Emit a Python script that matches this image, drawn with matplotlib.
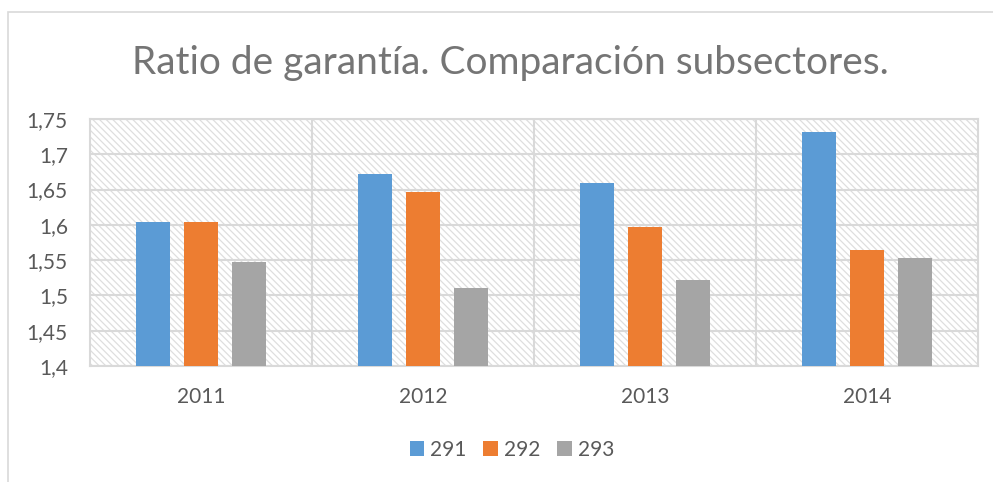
import matplotlib.pyplot as plt
import matplotlib.patches as patches
from matplotlib.ticker import MultipleLocator, FuncFormatter
import numpy as np

years = ["2011", "2012", "2013", "2014"]
s291 = [1.604, 1.672, 1.660, 1.731]
s292 = [1.604, 1.646, 1.597, 1.564]
s293 = [1.547, 1.511, 1.522, 1.553]
series = [("291", s291, "#5b9bd5"), ("292", s292, "#ed7d31"), ("293", s293, "#a5a5a5")]

plt.rcParams['font.family'] = ['Lato', 'DejaVu Sans']
plt.rcParams['hatch.linewidth'] = 0.9
txt = "#595959"
grid = "#d9d9d9"

fig = plt.figure(figsize=(9.93, 4.82), dpi=100)
ax = fig.add_axes([90/993, 1 - 366/482, (978 - 90)/993, (366 - 119)/482])

# outer chart border (runs off the right and bottom of the picture)
fig.patches.append(patches.Rectangle((8/993, -0.2), 1.2, 1.2 - 12/482, transform=fig.transFigure,
                                     fill=False, edgecolor=grid, lw=1.2))

# hatched plot area
ax.add_patch(patches.Rectangle((0, 0), 1, 1, transform=ax.transAxes, facecolor="white",
                               edgecolor="#dedede", hatch="\\\\\\\\\\", lw=0, zorder=0))

x = np.arange(len(years))
w = 0.153
step = 0.218
for i, (name, vals, col) in enumerate(series):
    ax.bar(x + (i - 1) * step, [v - 1.4 for v in vals], w, bottom=1.4, color=col, label=name, zorder=3)

ax.set_xlim(-0.5, 3.5)
ax.set_ylim(1.4, 1.75)
ax.yaxis.set_major_locator(MultipleLocator(0.05))
ax.yaxis.set_major_formatter(FuncFormatter(lambda v, p: f"{round(v, 2):g}".replace(".", ",")))
ax.set_xticks(x)
ax.set_xticklabels(years)
for xb in [0.5, 1.5, 2.5]:
    ax.axvline(xb, color=grid, lw=1.5, zorder=1)
ax.grid(axis="y", color=grid, lw=1.5, zorder=1)
ax.set_axisbelow(True)
for s in ax.spines.values():
    s.set_color(grid)
    s.set_linewidth(1.5)
ax.tick_params(axis="both", length=0, colors=txt, labelsize=15)
ax.tick_params(axis="x", pad=15)
ax.tick_params(axis="y", pad=16)

fig.text(510/993, 1 - 63/482, "Ratio de garantía. Comparación subsectores.", ha="center", va="center",
         fontsize=28, color="#757575")

fig.legend(loc="center", bbox_to_anchor=(512/993, 1 - 450/482), ncol=3, frameon=False,
           handlelength=0.7, handleheight=0.7, handletextpad=0.3, columnspacing=0.8,
           fontsize=15, labelcolor=txt)

fig.savefig("out.png", dpi=100)
